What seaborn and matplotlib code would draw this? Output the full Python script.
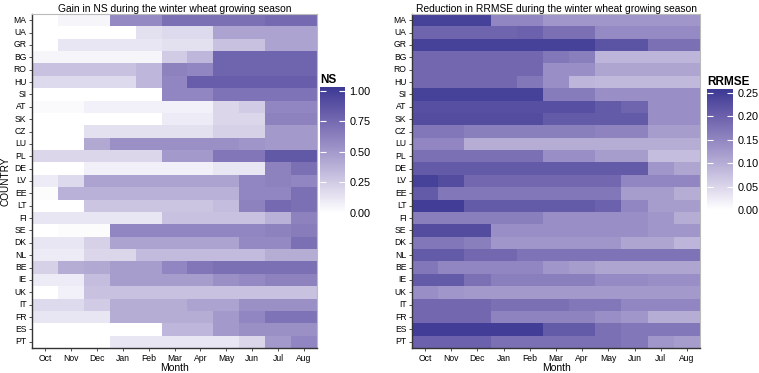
import numpy as np
import pandas as pd
import seaborn as sns
import matplotlib.pyplot as plt
from matplotlib.colors import ListedColormap, to_rgb

#%% data
countries = ['MA', 'UA', 'GR', 'BG', 'RO', 'HU', 'SI', 'AT', 'SK', 'CZ', 'LU', 'PL', 'DE', 'LV',
             'EE', 'LT', 'FI', 'SE', 'DK', 'NL', 'BE', 'IE', 'UK', 'IT', 'FR', 'ES', 'PT']
months = ['Oct', 'Nov', 'Dec', 'Jan', 'Feb', 'Mar', 'Apr', 'May', 'Jun', 'Jul', 'Aug']

# gain in NS, one row per country (Oct..Aug)
ns_gain = [
    [0, .05, .05, .58, .58, .72, .72, .72, .72, .75, .75],
    [0, 0, 0, 0, .15, .18, .18, .45, .45, .45, .45],
    [0, .12, .12, .12, .12, .15, .15, .3, .3, .45, .45],
    [.05, .05, .05, .05, .05, .25, .35, .78, .78, .78, .78],
    [.3, .3, .3, .3, .35, .62, .6, .78, .78, .78, .78],
    [.18, .18, .18, .18, .35, .6, .82, .82, .82, .82, .82],
    [0, 0, 0, 0, 0, .6, .6, .7, .7, .7, .7],
    [.03, .03, .07, .07, .07, .07, .07, .2, .25, .6, .6],
    [0, 0, 0, 0, 0, .1, .1, .2, .2, .62, .62],
    [0, 0, .15, .15, .15, .15, .15, .22, .22, .5, .5],
    [0, 0, .42, .55, .55, .55, .55, .55, .52, .5, .5],
    [.2, .2, .2, .2, .2, .5, .5, .68, .68, .85, .85],
    [0, 0, .08, .08, .08, .08, .08, .12, .12, .62, .72],
    [.1, .18, .45, .45, .45, .45, .45, .45, .6, .62, .6],
    [.02, .38, .38, .38, .38, .38, .38, .38, .6, .6, .72],
    [0, 0, .28, .28, .28, .28, .28, .32, .62, .75, .72],
    [.12, .12, .12, .12, .12, .3, .3, .3, .3, .38, .62],
    [0, .02, .02, .6, .6, .6, .6, .6, .6, .62, .65],
    [.12, .12, .22, .45, .45, .45, .45, .45, .58, .58, .72],
    [.1, .1, .2, .2, .33, .33, .33, .33, .33, .4, .4],
    [.22, .4, .42, .48, .48, .6, .68, .72, .72, .72, .72],
    [.1, .1, .32, .48, .48, .48, .48, .55, .58, .62, .62],
    [0, .07, .3, .3, .3, .3, .3, .3, .3, .3, .3],
    [.18, .18, .25, .4, .4, .4, .45, .45, .55, .55, .55],
    [.12, .12, .12, .4, .4, .4, .4, .5, .6, .7, .7],
    [0, 0, 0, 0, 0, .35, .35, .5, .55, .55, .55],
    [0, 0, 0, .12, .12, .12, .12, .12, .2, .5, .6],
]

# reduction in RRMSE, one row per country (Oct..Aug)
rrmse_red = [
    [.245, .245, .245, .15, .15, .13, .13, .13, .13, .13, .13],
    [.195, .195, .195, .195, .2, .18, .18, .145, .145, .145, .145],
    [.245, .245, .245, .245, .245, .245, .245, .22, .22, .18, .18],
    [.19, .19, .19, .19, .19, .17, .16, .09, .09, .09, .09],
    [.19, .19, .19, .19, .19, .14, .14, .11, .11, .11, .11],
    [.19, .19, .19, .19, .17, .14, .09, .085, .085, .085, .085],
    [.245, .245, .245, .245, .245, .165, .165, .14, .14, .14, .14],
    [.225, .225, .225, .225, .225, .225, .225, .21, .195, .14, .14],
    [.23, .23, .23, .23, .23, .21, .21, .21, .21, .14, .14],
    [.17, .17, .16, .16, .16, .16, .16, .155, .155, .12, .12],
    [.15, .15, .1, .1, .1, .1, .1, .1, .1, .1, .1],
    [.18, .18, .18, .18, .18, .14, .14, .12, .12, .08, .08],
    [.21, .21, .21, .21, .21, .21, .21, .21, .21, .13, .11],
    [.245, .23, .19, .19, .19, .19, .19, .19, .15, .15, .15],
    [.21, .17, .17, .17, .17, .17, .17, .17, .12, .12, .1],
    [.25, .25, .21, .21, .21, .21, .21, .2, .15, .12, .12],
    [.16, .16, .16, .16, .16, .14, .14, .14, .14, .13, .1],
    [.23, .23, .23, .14, .14, .14, .14, .14, .14, .13, .13],
    [.17, .17, .16, .13, .13, .13, .13, .13, .11, .11, .09],
    [.21, .21, .19, .19, .175, .175, .175, .175, .175, .175, .175],
    [.17, .15, .15, .15, .15, .13, .12, .11, .11, .11, .11],
    [.21, .21, .18, .16, .16, .16, .16, .145, .145, .14, .14],
    [.14, .13, .125, .125, .125, .125, .125, .125, .125, .125, .125],
    [.19, .19, .19, .18, .18, .18, .17, .17, .15, .15, .15],
    [.19, .19, .19, .155, .155, .155, .155, .14, .13, .1, .1],
    [.25, .25, .25, .25, .25, .21, .21, .18, .17, .17, .17],
    [.2, .2, .2, .18, .18, .18, .18, .18, .17, .13, .12],
]


#%% white -> dark blue gradient interpolated in Lab (like ggplot)
def to_lab(rgb):
    c = np.array(rgb)
    c = np.where(c > 0.04045, ((c + 0.055) / 1.055) ** 2.4, c / 12.92)
    m = np.array([[0.4124, 0.3576, 0.1805], [0.2126, 0.7152, 0.0722], [0.0193, 0.1192, 0.9505]])
    xyz = m @ c / np.array([0.9505, 1.0, 1.089])
    f = np.where(xyz > 0.008856, np.cbrt(xyz), 7.787 * xyz + 16 / 116)
    return np.array([116 * f[1] - 16, 500 * (f[0] - f[1]), 200 * (f[1] - f[2])])


def from_lab(lab):
    fy = (lab[0] + 16) / 116
    f = np.array([fy + lab[1] / 500, fy, fy - lab[2] / 200])
    xyz = np.where(f > 0.2069, f ** 3, (f - 16 / 116) / 7.787) * np.array([0.9505, 1.0, 1.089])
    m = np.array([[3.2406, -1.5372, -0.4986], [-0.9689, 1.8758, 0.0415], [0.0557, -0.2040, 1.0570]])
    c = m @ xyz
    c = np.where(c > 0.0031308, 1.055 * np.clip(c, 0, None) ** (1 / 2.4) - 0.055, 12.92 * c)
    return np.clip(c, 0, 1)


lo, hi = to_lab(to_rgb('#ffffff')), to_lab(to_rgb('#3b3994'))
cmap = ListedColormap([from_lab(lo + t * (hi - lo)) for t in np.linspace(0, 1, 256)])

#%% plotting
plt.rcParams['font.family'] = ['Liberation Sans', 'DejaVu Sans']

fig = plt.figure(figsize=(7.59, 3.73), dpi=100)
W, H = 759, 373


def px_axes(x0, y0, x1, y1):
    return fig.add_axes([x0 / W, 1 - y1 / H, (x1 - x0) / W, (y1 - y0) / H])


panels = [
    (ns_gain, 'Gain in NS during the winter wheat growing season', 'NS',
     (32, 14, 317, 348), (320, 87, 345, 213), 1.03, [0, .25, .5, .75, 1.0], 'COUNTRY'),
    (rrmse_red, 'Reduction in RRMSE during the winter wheat growing season', 'RRMSE',
     (412, 14, 700, 348), (707, 89, 733, 210), 0.258, [0, .05, .1, .15, .2, .25], ''),
]

for vals, title, cbtitle, box, cbox, vmax, cticks, ylab in panels:
    df = pd.DataFrame(vals, index=countries, columns=months)
    ax = px_axes(*box)
    cax = px_axes(*cbox)
    sns.heatmap(df, ax=ax, cbar_ax=cax, cmap=cmap, vmin=0, vmax=vmax,
                xticklabels=True, yticklabels=True, cbar_kws={'ticks': cticks})
    ax.set_title(title, fontsize=7.4, pad=1.5)
    ax.set_xlabel('Month', fontsize=7.5, labelpad=0)
    ax.set_ylabel(ylab, fontsize=7.2, labelpad=2)
    ax.tick_params(axis='both', labelsize=6.2, length=2.5, width=0.6, color='#333333', pad=1.5)
    ax.tick_params(axis='y', labelrotation=0)
    ax.tick_params(axis='x', labelrotation=0)
    for side in ['left', 'bottom']:
        ax.spines[side].set_visible(True)
        ax.spines[side].set_color('#333333')
        ax.spines[side].set_linewidth(1.0)
    for side in ['top', 'right']:
        ax.spines[side].set_visible(True)
        ax.spines[side].set_color('#bbbbbb')
        ax.spines[side].set_linewidth(0.8)

    cax.yaxis.set_ticks_position('both')
    cax.tick_params(labelsize=7.8, length=4, width=0.8, color='white', direction='in', pad=3)
    cax.set_yticklabels([f'{t:.2f}' for t in cticks])
    for s in cax.spines.values():
        s.set_visible(False)
    cax.set_title(cbtitle, fontsize=8.5, fontweight='bold', loc='left', pad=3)

fig.savefig('out.png', dpi=100)
